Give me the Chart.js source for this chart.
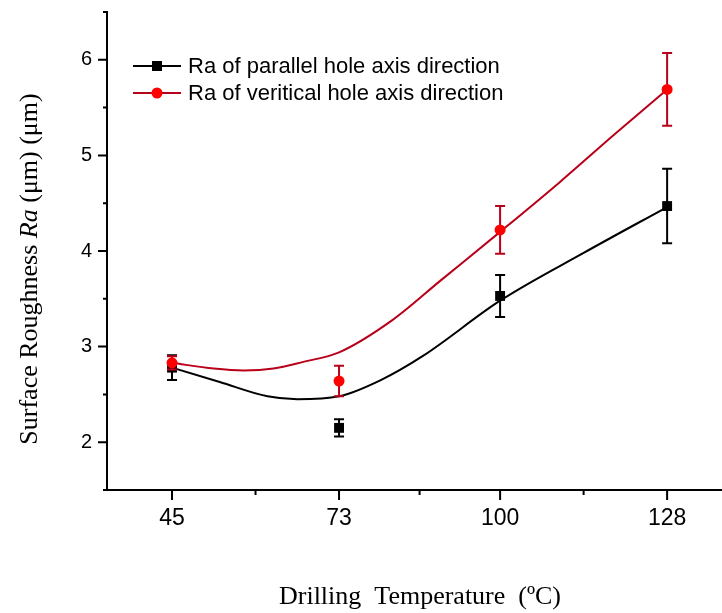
<!DOCTYPE html>
<html>
<head>
<meta charset="utf-8">
<script src="https://cdn.jsdelivr.net/npm/chart.js@4.4.1/dist/chart.umd.min.js"></script>
<style>
  html, body { margin: 0; padding: 0; background: #fff; overflow: hidden; }
  #wrap { width: 722px; height: 613px; position: relative; }
</style>
</head>
<body>
<div id="wrap"><canvas id="canvas"></canvas></div>
<script>
// drilling temperatures (ºC)
const temps = [45, 73, 100, 128];

// measured Ra (µm) with error bar half-widths
const raParallel = [2.78, 2.15, 3.53, 4.47];
const errParallel = [0.13, 0.09, 0.22, 0.39];
const raVertical = [2.83, 2.64, 4.22, 5.69];
const errVertical = [0.07, 0.16, 0.25, 0.38];

// fitted trend curves
const fitParallelX = [45, 53, 61, 66, 73, 80, 87, 100, 114, 128];
const fitParallelY = [2.78, 2.63, 2.48, 2.45, 2.48, 2.65, 2.90, 3.48, 3.98, 4.46];
const fitVerticalX = [45, 52, 57, 62, 67, 73, 82, 90, 100, 110, 119, 128];
const fitVerticalY = [2.83, 2.77, 2.75, 2.77, 2.84, 2.94, 3.28, 3.69, 4.20, 4.72, 5.21, 5.69];

const yTicks = [2, 3, 4, 5, 6];

const labelParallel = "Ra of parallel hole axis direction";
const labelVertical = "Ra of veritical hole axis direction";

const RED = "#ff0000";
const DARK_RED = "#b8001a";

const toXY = (xs, ys) => xs.map((x, i) => ({ x: x, y: ys[i] }));

// error bars, drawn just before each point dataset
const errorBars = {
  id: "errorBars",
  beforeDatasetDraw(chart, args) {
    const ds = chart.data.datasets[args.index];
    if (!ds.errors) return;
    const { ctx, scales } = chart;
    ctx.save();
    ctx.strokeStyle = ds.errorColor;
    ctx.lineWidth = 2;
    ds.data.forEach((p, i) => {
      const x = scales.x.getPixelForValue(p.x);
      const top = scales.y.getPixelForValue(p.y + ds.errors[i]);
      const bot = scales.y.getPixelForValue(p.y - ds.errors[i]);
      ctx.beginPath();
      ctx.moveTo(x, top); ctx.lineTo(x, bot);
      ctx.moveTo(x - 5, top); ctx.lineTo(x + 5, top);
      ctx.moveTo(x - 5, bot); ctx.lineTo(x + 5, bot);
      ctx.stroke();
    });
    ctx.restore();
  }
};

// tick marks, legend and axis titles
const decorations = {
  id: "decorations",
  afterDraw(chart) {
    const { ctx, scales, chartArea } = chart;
    const xs = scales.x, ys = scales.y;
    ctx.save();
    ctx.strokeStyle = "#000";
    ctx.lineWidth = 2;

    // x ticks: major at temperatures, minor halfway between
    ctx.beginPath();
    temps.forEach((t, i) => {
      const px = xs.getPixelForValue(t);
      ctx.moveTo(px, chartArea.bottom); ctx.lineTo(px, chartArea.bottom + 10);
      if (i < temps.length - 1) {
        const m = xs.getPixelForValue((t + temps[i + 1]) / 2);
        ctx.moveTo(m, chartArea.bottom); ctx.lineTo(m, chartArea.bottom + 5);
      }
    });
    // y ticks: major at integers, minor at halves
    yTicks.forEach(v => {
      const py = ys.getPixelForValue(v);
      ctx.moveTo(chartArea.left, py); ctx.lineTo(chartArea.left - 9, py);
      [v - 0.5, v + 0.5].forEach(h => {
        const ph = ys.getPixelForValue(h);
        ctx.moveTo(chartArea.left, ph); ctx.lineTo(chartArea.left - 4, ph);
      });
    });
    ctx.stroke();

    // legend
    const items = [
      { label: labelParallel, color: "#000", fill: "#000", shape: "rect", y: 66 },
      { label: labelVertical, color: DARK_RED, fill: RED, shape: "circle", y: 93 }
    ];
    items.forEach(it => {
      ctx.strokeStyle = it.color;
      ctx.lineWidth = 2;
      ctx.beginPath();
      ctx.moveTo(133, it.y); ctx.lineTo(181, it.y);
      ctx.stroke();
      ctx.fillStyle = it.fill;
      if (it.shape === "rect") {
        ctx.fillRect(152, it.y - 5, 10, 10);
      } else {
        ctx.beginPath();
        ctx.arc(157, it.y, 5.5, 0, Math.PI * 2);
        ctx.fill();
      }
      ctx.fillStyle = "#000";
      ctx.font = "22px 'Liberation Sans', Arial, sans-serif";
      ctx.textBaseline = "middle";
      ctx.textAlign = "left";
      ctx.fillText(it.label, 188, it.y + 1);
    });

    // x axis title
    ctx.font = "26px 'Liberation Serif', 'Times New Roman', serif";
    ctx.textAlign = "center";
    ctx.textBaseline = "middle";
    ctx.fillStyle = "#000";
    ctx.fillText("Drilling  Temperature  (ºC)", 420, 597);

    // y axis title with italic Ra
    const parts = [
      { t: "Surface Roughness ", f: "26px 'Liberation Serif', serif" },
      { t: "Ra", f: "italic 26px 'Liberation Serif', serif" },
      { t: " (μm) (μm)", f: "26px 'Liberation Serif', serif" }
    ];
    let total = 0;
    parts.forEach(p => { ctx.font = p.f; p.w = ctx.measureText(p.t).width; total += p.w; });
    ctx.translate(30, 269);
    ctx.rotate(-Math.PI / 2);
    ctx.textAlign = "left";
    let cx = -total / 2;
    parts.forEach(p => { ctx.font = p.f; ctx.fillText(p.t, cx, 0); cx += p.w; });
    ctx.restore();
  }
};

const ctx = document.getElementById("canvas").getContext("2d");

new Chart(ctx, {
  type: "scatter",
  data: {
    datasets: [
      {
        label: labelVertical,
        data: toXY(temps, raVertical),
        errors: errVertical,
        errorColor: DARK_RED,
        pointStyle: "circle",
        pointRadius: 5.5,
        pointBackgroundColor: RED,
        pointBorderColor: RED,
        pointBorderWidth: 0,
        showLine: false
      },
      {
        label: labelParallel,
        data: toXY(temps, raParallel),
        errors: errParallel,
        errorColor: "#000",
        pointStyle: "rect",
        pointRadius: 7,
        pointBackgroundColor: "#000",
        pointBorderColor: "#000",
        pointBorderWidth: 0,
        showLine: false
      },
      {
        label: "fit vertical",
        data: toXY(fitVerticalX, fitVerticalY),
        showLine: true,
        borderColor: DARK_RED,
        borderWidth: 2,
        pointRadius: 0,
        cubicInterpolationMode: "monotone"
      },
      {
        label: "fit parallel",
        data: toXY(fitParallelX, fitParallelY),
        showLine: true,
        borderColor: "#000",
        borderWidth: 2,
        pointRadius: 0,
        cubicInterpolationMode: "monotone"
      }
    ]
  },
  options: {
    responsive: true,
    maintainAspectRatio: false,
    animation: false,
    layout: { autoPadding: false, padding: { top: 12, right: 0, left: 0, bottom: 0 } },
    plugins: {
      legend: { display: false },
      tooltip: { enabled: false }
    },
    scales: {
      x: {
        type: "linear",
        min: 34.1,
        max: 137.2,
        afterBuildTicks: (s) => { s.ticks = temps.map(v => ({ value: v })); },
        afterFit: (s) => {
          s.height = 123;
          s.paddingLeft = 0; s.paddingRight = 0;
        },
        grid: { display: false, drawTicks: false },
        border: { display: true, color: "#000", width: 2 },
        ticks: {
          color: "#000",
          padding: 15,
          maxRotation: 0,
          font: { family: "'Liberation Sans', Arial, sans-serif", size: 23 }
        }
      },
      y: {
        min: 1.5,
        max: 6.5,
        afterBuildTicks: (s) => { s.ticks = yTicks.map(v => ({ value: v })); },
        afterFit: (s) => {
          s.width = 107;
          s.paddingTop = 0; s.paddingBottom = 0;
        },
        grid: { display: false, drawTicks: false },
        border: { display: true, color: "#000", width: 2 },
        ticks: {
          color: "#000",
          padding: 15,
          font: { family: "'Liberation Sans', Arial, sans-serif", size: 20 }
        }
      }
    }
  },
  plugins: [errorBars, decorations]
});
</script>
</body>
</html>
